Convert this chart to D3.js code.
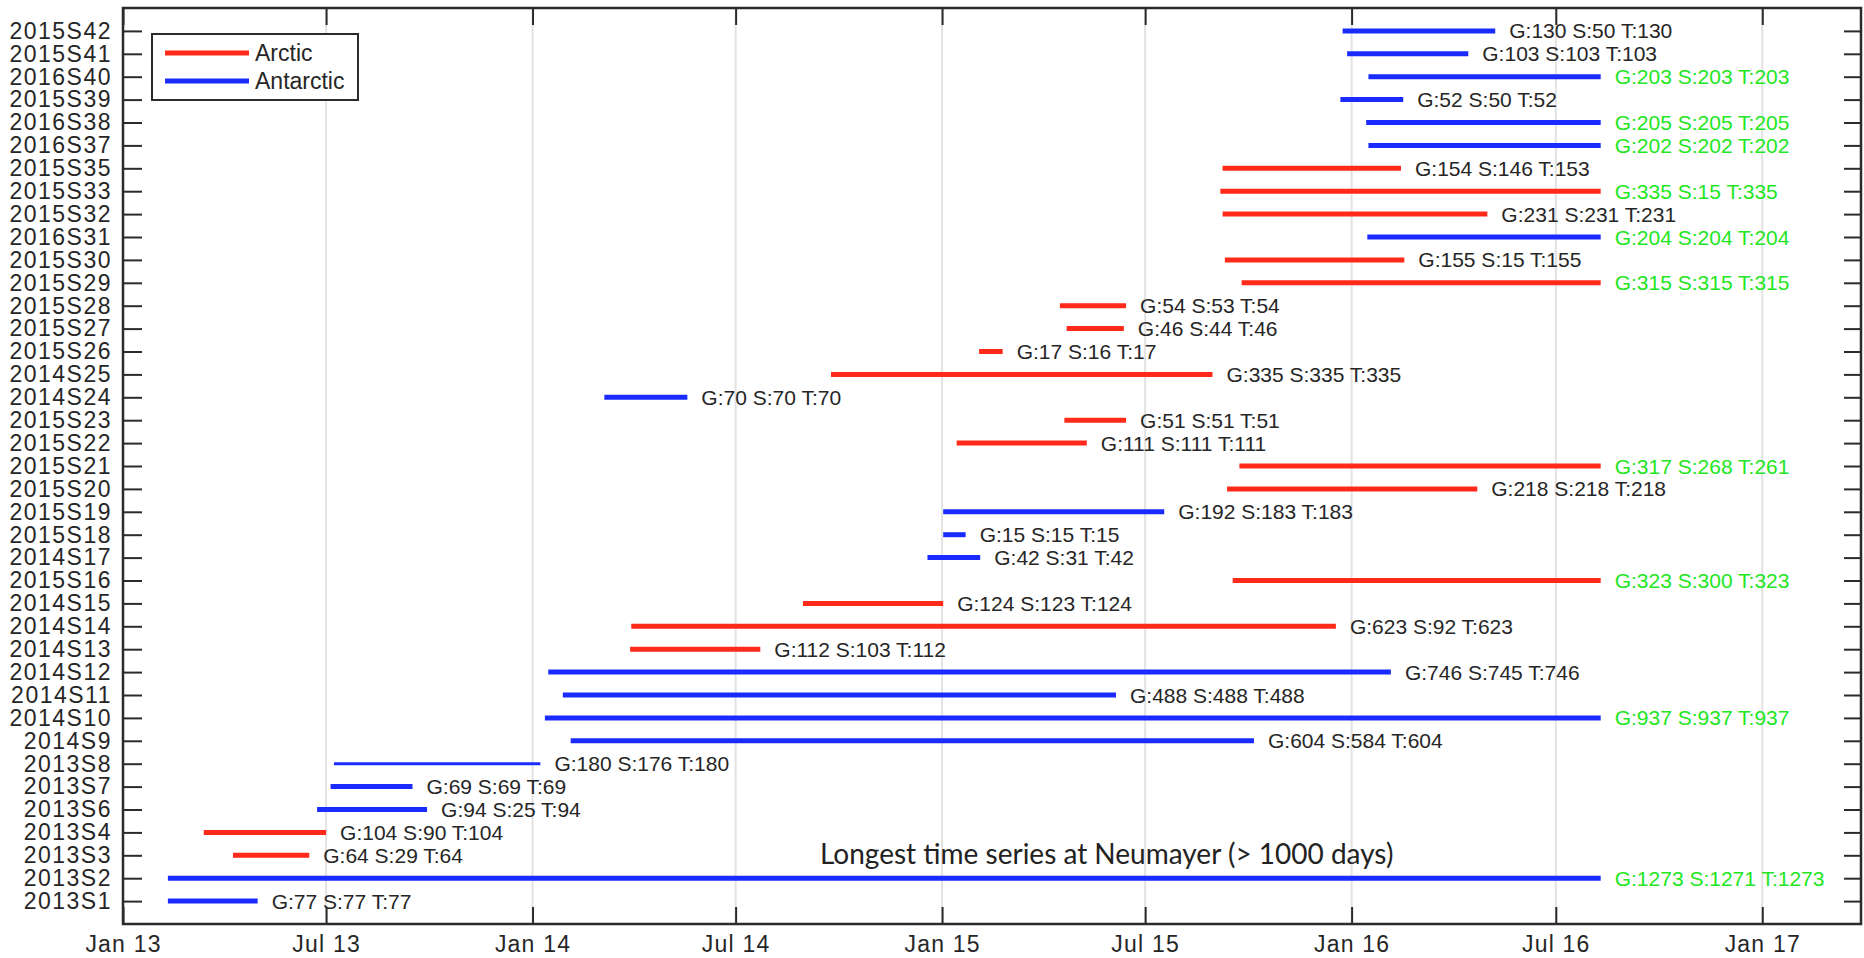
<!DOCTYPE html>
<html>
<head>
<meta charset="utf-8">
<script src="https://cdn.jsdelivr.net/npm/d3@7"></script>
<style>
  body { margin: 0; background: #fff; }
  svg { display: block; font-family: "Liberation Sans", Arial, sans-serif; }
</style>
</head>
<body>
<svg></svg>
<script>
const width = 1864;
const height = 958;
const margin = {top: 8, right: 3, bottom: 34, left: 123};

// deployments, bottom row first
const names = ["2013S1","2013S2","2013S3","2013S4","2013S6","2013S7","2013S8","2014S9","2014S10","2014S11",
    "2014S12","2014S13","2014S14","2014S15","2015S16","2014S17","2015S18","2015S19","2015S20","2015S21",
    "2015S22","2015S23","2014S24","2014S25","2015S26","2015S27","2015S28","2015S29","2015S30","2016S31",
    "2015S32","2015S33","2015S35","2016S37","2016S38","2015S39","2016S40","2015S41","2015S42"];

const regions = ["Antarctic","Antarctic","Arctic","Arctic","Antarctic","Antarctic","Antarctic","Antarctic","Antarctic","Antarctic",
    "Antarctic","Arctic","Arctic","Arctic","Arctic","Antarctic","Antarctic","Antarctic","Arctic","Arctic",
    "Arctic","Arctic","Antarctic","Arctic","Arctic","Arctic","Arctic","Arctic","Arctic","Antarctic",
    "Arctic","Arctic","Arctic","Antarctic","Antarctic","Antarctic","Antarctic","Antarctic","Antarctic"];

const starts = ["2013-02-10","2013-02-10","2013-04-09","2013-03-14","2013-06-23","2013-07-05","2013-07-08","2014-02-04","2014-01-12","2014-01-28",
    "2014-01-15","2014-03-29","2014-03-30","2014-08-30","2015-09-17","2014-12-19","2015-01-02","2015-01-02","2015-09-12","2015-09-23",
    "2015-01-14","2015-04-20","2014-03-06","2014-09-24","2015-02-03","2015-04-22","2015-04-16","2015-09-25","2015-09-10","2016-01-15",
    "2015-09-08","2015-09-06","2015-09-08","2016-01-16","2016-01-14","2015-12-22","2016-01-16","2015-12-28","2015-12-24"];

const ends = ["2013-05-01","2016-08-10","2013-06-16","2013-07-01","2013-09-29","2013-09-16","2014-01-08","2015-10-06","2016-08-10","2015-06-05",
    "2016-02-05","2014-07-23","2015-12-18","2015-01-02","2016-08-10","2015-02-04","2015-01-22","2015-07-18","2016-04-22","2016-08-10",
    "2015-05-10","2015-06-14","2014-05-19","2015-08-30","2015-02-24","2015-06-12","2015-06-14","2016-08-10","2016-02-17","2016-08-10",
    "2016-05-01","2016-08-10","2016-02-14","2016-08-10","2016-08-10","2016-02-16","2016-08-10","2016-04-14","2016-05-08"];

const gDays = [77,1273,64,104,94,69,180,604,937,488,746,112,623,124,323,42,15,192,218,317,111,51,70,335,17,46,54,315,155,204,231,335,154,202,205,52,203,103,130];
const sDays = [77,1271,29,90,25,69,176,584,937,488,745,103,92,123,300,31,15,183,218,268,111,51,70,335,16,44,53,315,15,204,231,15,146,202,205,50,203,103,50];
const tDays = [77,1273,64,104,94,69,180,604,937,488,746,112,623,124,323,42,15,183,218,261,111,51,70,335,17,46,54,315,155,204,231,335,153,202,205,52,203,103,130];

const lastDate = "2016-08-10";   // still recording -> green label
const xDomain = ["2013-01-01", "2017-03-30"];
const legendItems = ["Arctic", "Antarctic"];
const note = "Longest time series at Neumayer (> 1000 days)";

const colors = {Arctic: "#ff2a1a", Antarctic: "#1a2bff"};
const thin = ["2013S8"];

const parse = d3.timeParse("%Y-%m-%d");
const data = names.map((n, i) => ({
    name: n,
    region: regions[i],
    start: parse(starts[i]),
    end: parse(ends[i]),
    active: ends[i] === lastDate,
    label: `G:${gDays[i]} S:${sDays[i]} T:${tDays[i]}`
}));

const svg = d3.select("svg")
    .attr("width", width)
    .attr("height", height);

const x = d3.scaleTime()
    .domain(xDomain.map(parse))
    .range([margin.left, width - margin.right]);

const y = d3.scalePoint()
    .domain(names.slice().reverse())
    .range([margin.top, height - margin.bottom])
    .padding(1);

const x0 = margin.left, x1 = width - margin.right;
const y0 = margin.top, y1 = height - margin.bottom;
const xTicks = d3.timeMonth.every(6).range(parse("2013-01-01"), parse("2017-01-02"));

// grid
svg.append("g")
    .selectAll("line")
    .data(xTicks.slice(1))
    .join("line")
    .attr("x1", d => x(d)).attr("x2", d => x(d))
    .attr("y1", y0).attr("y2", y1)
    .attr("stroke", "#e2e2e2")
    .attr("stroke-width", 2);

// bottom axis
const fmt = d3.timeFormat("%b %y");
const xAxis = svg.append("g")
    .attr("transform", `translate(0,${y1})`)
    .call(d3.axisBottom(x).tickValues(xTicks).tickFormat(fmt).tickSizeInner(-17).tickSizeOuter(0).tickPadding(12));
xAxis.selectAll("text")
    .style("font-size", "23px")
    .style("letter-spacing", "1.2px")
    .attr("fill", "#262626");

svg.append("g")
    .attr("transform", `translate(0,${y0})`)
    .call(d3.axisTop(x).tickValues(xTicks).tickFormat("").tickSizeInner(-17).tickSizeOuter(0));

// left axis
const yAxis = svg.append("g")
    .attr("transform", `translate(${x0},0)`)
    .call(d3.axisLeft(y).tickSizeInner(-19).tickSizeOuter(0).tickPadding(11));
yAxis.selectAll("text")
    .style("font-size", "23px")
    .style("letter-spacing", "1.5px")
    .attr("fill", "#262626");

svg.append("g")
    .attr("transform", `translate(${x1},0)`)
    .call(d3.axisRight(y).tickSizeInner(-17).tickSizeOuter(0).tickFormat(""));

svg.selectAll(".domain").remove();
svg.selectAll(".tick line").attr("stroke", "#2b2b2b").attr("stroke-width", 2);

svg.append("rect")
    .attr("x", x0).attr("y", y0)
    .attr("width", x1 - x0).attr("height", y1 - y0)
    .attr("fill", "none")
    .attr("stroke", "#2b2b2b")
    .attr("stroke-width", 2.5);

// deployments
svg.append("g")
    .selectAll("line")
    .data(data)
    .join("line")
    .attr("x1", d => x(d.start))
    .attr("x2", d => x(d.end))
    .attr("y1", d => y(d.name))
    .attr("y2", d => y(d.name))
    .attr("stroke", d => colors[d.region])
    .attr("stroke-width", d => thin.includes(d.name) ? 3 : 5);

svg.append("g")
    .selectAll("text")
    .data(data)
    .join("text")
    .attr("x", d => x(d.end) + 14)
    .attr("y", d => y(d.name))
    .attr("dy", "0.36em")
    .style("font-size", "21px")
    .attr("fill", d => d.active ? "#22e622" : "#262626")
    .text(d => d.label);

// annotation
svg.append("text")
    .attr("x", 820)
    .attr("y", y("2013S2") - 14)
    .style("font-family", "Lato, 'Open Sans', sans-serif")
    .style("font-size", "28px")
    .attr("fill", "#222")
    .text(note);

// legend
const legend = svg.append("g").attr("transform", "translate(152,34)");
legend.append("rect")
    .attr("width", 206).attr("height", 66)
    .attr("fill", "#fff")
    .attr("stroke", "#2b2b2b")
    .attr("stroke-width", 2);
legendItems.forEach((k, i) => {
    legend.append("line")
        .attr("x1", 13).attr("x2", 97)
        .attr("y1", 19 + i * 28).attr("y2", 19 + i * 28)
        .attr("stroke", colors[k])
        .attr("stroke-width", 5);
    legend.append("text")
        .attr("x", 103)
        .attr("y", 19 + i * 28)
        .attr("dy", "0.36em")
        .style("font-size", "23px")
        .attr("fill", "#262626")
        .text(k);
});
</script>
</body>
</html>
